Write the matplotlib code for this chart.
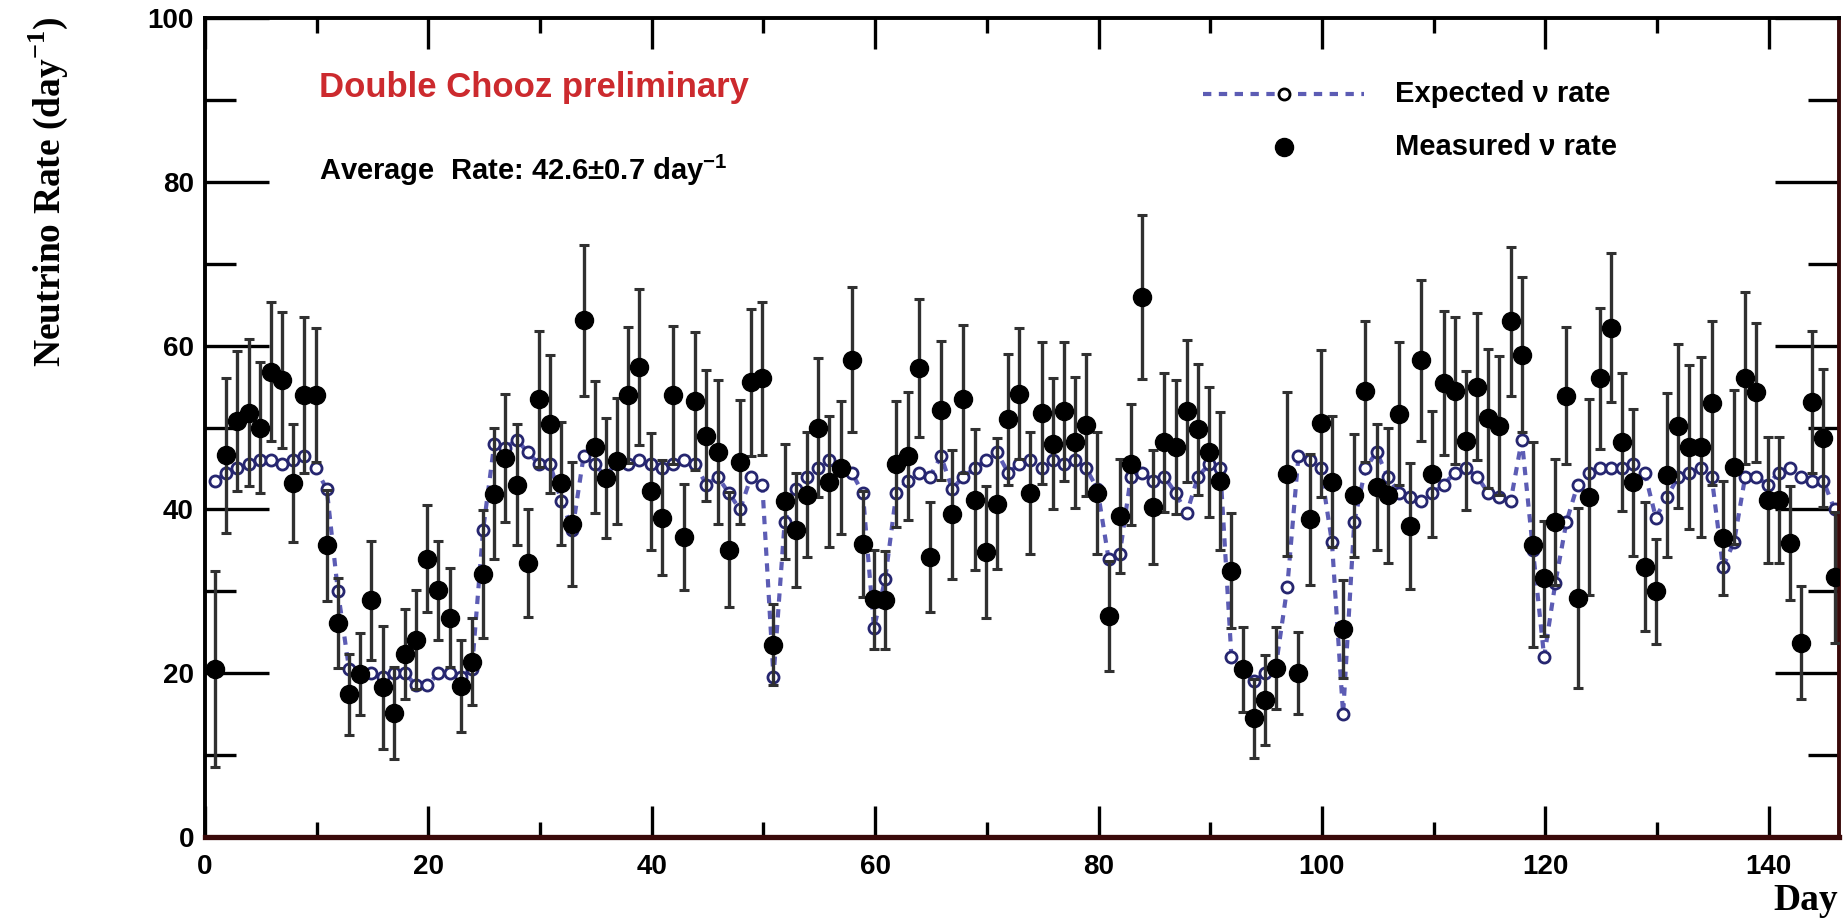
import numpy as np
import matplotlib
matplotlib.use("Agg")
import matplotlib.pyplot as plt
from matplotlib.lines import Line2D

# ---------------- data ----------------
days = np.arange(1, 147) - 0.1

measured = [20.5, 46.6, 50.8, 51.8, 50.0, 56.8, 55.8, 43.2, 54.0, 54.0,
            35.6, 26.1, 17.4, 19.9, 28.9, 18.3, 15.1, 22.3, 24.1, 34.0,
            30.1, 26.8, 18.4, 21.4, 32.1, 41.9, 46.3, 43.0, 33.5, 53.5,
            50.4, 43.2, 38.2, 63.1, 47.6, 43.8, 45.9, 54.0, 57.4, 42.2,
            39.0, 54.0, 36.6, 53.2, 49.0, 47.0, 35.1, 45.8, 55.5, 56.0,
            23.5, 41.0, 37.5, 41.8, 50.0, 43.4, 45.1, 58.3, 35.8, 29.0,
            28.9, 45.5, 46.5, 57.3, 34.2, 52.1, 39.4, 53.5, 41.2, 34.8,
            40.7, 51.0, 54.1, 42.0, 51.8, 48.0, 52.0, 48.2, 50.3, 42.0,
            27.0, 39.2, 45.5, 65.9, 40.3, 48.2, 47.6, 52.0, 49.8, 47.0,
            43.5, 32.5, 20.5, 14.5, 16.7, 20.6, 44.3, 20.0, 38.8, 50.5,
            43.4, 25.4, 41.7, 54.4, 42.7, 41.7, 51.7, 38.0, 58.2, 44.3,
            55.4, 54.5, 48.4, 55.0, 51.1, 50.2, 63.0, 58.9, 35.7, 31.6,
            38.5, 53.9, 29.2, 41.5, 56.0, 62.2, 48.2, 43.3, 33.0, 30.0,
            44.2, 50.2, 47.6, 47.6, 53.0, 36.5, 45.2, 56.1, 54.3, 41.1,
            41.1, 35.9, 23.7, 53.1, 48.7, 31.7]

errors = [12.0, 9.5, 8.5, 9.0, 8.0, 8.5, 8.3, 7.2, 9.5, 8.2,
          6.8, 5.5, 5.0, 5.0, 7.3, 7.5, 5.6, 5.5, 6.0, 6.5,
          6.0, 6.0, 5.6, 5.3, 7.8, 8.0, 7.8, 7.4, 6.6, 8.3,
          8.4, 7.5, 7.6, 9.2, 8.1, 7.3, 7.7, 8.3, 9.5, 7.1,
          7.0, 8.4, 6.5, 8.4, 8.0, 8.8, 7.0, 7.6, 9.0, 9.3,
          5.0, 7.0, 7.0, 7.6, 8.5, 8.0, 8.1, 8.9, 6.5, 6.0,
          6.0, 7.7, 7.8, 8.4, 6.7, 8.5, 7.9, 9.0, 8.6, 8.0,
          8.0, 8.0, 8.0, 7.5, 8.7, 8.0, 8.5, 8.0, 8.7, 7.5,
          6.7, 7.0, 7.4, 10.0, 7.0, 8.5, 8.2, 8.7, 8.0, 7.9,
          8.4, 7.0, 5.2, 4.8, 5.5, 5.0, 10.0, 5.0, 8.0, 9.0,
          8.0, 6.0, 7.5, 8.6, 7.7, 8.2, 8.7, 7.7, 9.8, 7.7,
          8.8, 9.0, 8.5, 9.0, 8.5, 8.5, 9.1, 9.5, 12.5, 7.0,
          7.7, 8.4, 11.0, 12.0, 8.6, 9.1, 8.4, 9.0, 7.9, 6.4,
          10.0, 10.0, 10.0, 11.0, 10.0, 7.0, 9.4, 10.5, 8.5, 7.7,
          7.7, 7.0, 6.9, 8.7, 8.4, 8.0]

expected = [43.5, 44.5, 45.0, 45.5, 46.0, 46.0, 45.5, 46.0, 46.5, 45.0,
            42.5, 30.0, 20.5, 20.0, 20.0, 19.5, 20.0, 20.0, 18.5, 18.5,
            20.0, 20.0, 19.5, 20.5, 37.5, 48.0, 47.5, 48.5, 47.0, 45.5,
            45.5, 41.0, 37.5, 46.5, 45.5, 44.0, 46.0, 45.5, 46.0, 45.5,
            45.0, 45.5, 46.0, 45.5, 43.0, 44.0, 42.0, 40.0, 44.0, 43.0,
            19.5, 38.5, 42.5, 44.0, 45.0, 46.0, 45.0, 44.5, 42.0, 25.5,
            31.5, 42.0, 43.5, 44.5, 44.0, 46.5, 42.5, 44.0, 45.0, 46.0,
            47.0, 44.5, 45.5, 46.0, 45.0, 46.0, 45.5, 46.0, 45.0, 42.5,
            34.0, 34.5, 44.0, 44.5, 43.5, 44.0, 42.0, 39.5, 44.0, 45.5,
            45.0, 22.0, 20.5, 19.0, 20.0, 21.0, 30.5, 46.5, 46.0, 45.0,
            36.0, 15.0, 38.5, 45.0, 47.0, 44.0, 42.0, 41.5, 41.0, 42.0,
            43.0, 44.5, 45.0, 44.0, 42.0, 41.5, 41.0, 48.5, 35.0, 22.0,
            31.0, 38.5, 43.0, 44.5, 45.0, 45.0, 45.0, 45.5, 44.5, 39.0,
            41.5, 44.0, 44.5, 45.0, 44.0, 33.0, 36.0, 44.0, 44.0, 43.0,
            44.5, 45.0, 44.0, 43.5, 43.5, 40.0]

x_ticks = [0, 20, 40, 60, 80, 100, 120, 140]
y_ticks = [0, 20, 40, 60, 80, 100]

# ---------------- figure ----------------
W, H = 1848, 919
fig = plt.figure(figsize=(W / 100, H / 100), dpi=100)
ax = fig.add_axes([205 / W, 1 - 837 / H, (1839 - 205) / W, (837 - 18) / H])

line_col = "#5c5cb4"
ring_col = "#262670"
ax.plot(days, expected, linestyle=(0, (2.0, 1.8)), color=line_col, lw=3.0,
        marker="o", markersize=8, markerfacecolor="white",
        markeredgecolor=ring_col, markeredgewidth=2.0, zorder=2)

ax.errorbar(days, measured, yerr=errors, fmt="o", color="black",
            markersize=13, ecolor="#303030", elinewidth=2.4, capsize=3.5,
            capthick=2.2, zorder=3)

ax.set_xlim(0, 146.3)
ax.set_ylim(0, 100)
ax.set_xticks(x_ticks)
ax.set_yticks(y_ticks)
ax.set_xticks(np.arange(10, 146, 20), minor=True)
ax.set_yticks(np.arange(10, 100, 20), minor=True)

ax.tick_params(axis="both", which="both", direction="in", top=True, right=True,
               colors="black", width=2.4)
ax.tick_params(axis="x", which="major", length=22, pad=12)
ax.tick_params(axis="x", which="minor", length=11)
ax.tick_params(axis="y", which="major", length=46, pad=8)
ax.tick_params(axis="y", which="minor", length=22)
for lab in ax.get_xticklabels() + ax.get_yticklabels():
    lab.set_fontfamily("Liberation Sans")
    lab.set_fontsize(20)
    lab.set_fontweight("bold")

for s in ax.spines.values():
    s.set_linewidth(2.8)
    s.set_color("black")
ax.spines["bottom"].set_color("#3a0a0a")
ax.spines["bottom"].set_linewidth(3.8)
ax.spines["right"].set_color("#3a0a0a")

# axis titles
fig.text(48 / W, 1 - 16 / H, "Neutrino Rate (day$^{\\mathregular{-1}}$)",
         rotation=90, ha="center", va="top", family="Liberation Serif",
         fontsize=27, fontweight="bold")
fig.text(1838 / W, 1 - 900 / H, "Day", ha="right", va="center",
         family="Liberation Serif", fontsize=27, fontweight="bold")

# annotations
fig.text(319 / W, 1 - 87 / H, "Double Chooz preliminary", ha="left",
         va="center", color="#cc2a2e", family="Liberation Sans", fontsize=25,
         fontweight="bold")
fig.text(319 / W, 1 - 170 / H,
         "Average  Rate: 42.6\u00b10.7 day$^{\\mathregular{-1}}$", ha="left",
         va="center", color="black", family="Liberation Sans", fontsize=21,
         fontweight="bold")

# legend (drawn by hand to match placement)
fig.add_artist(Line2D([1203 / W, 1364 / W], [1 - 94 / H, 1 - 94 / H],
                      transform=fig.transFigure, linestyle=(0, (2.0, 1.8)),
                      color=line_col, lw=3.0))
fig.add_artist(Line2D([1284 / W], [1 - 94 / H], transform=fig.transFigure,
                      marker="o", markersize=8, markerfacecolor="white",
                      markeredgecolor="black", markeredgewidth=2.0,
                      linestyle="none"))
fig.add_artist(Line2D([1284 / W], [1 - 147 / H], transform=fig.transFigure,
                      marker="o", markersize=13, color="black",
                      linestyle="none"))
fig.text(1395 / W, 1 - 94 / H, "Expected \u03bd rate", ha="left", va="center",
         family="Liberation Sans", fontsize=21, fontweight="bold")
fig.text(1395 / W, 1 - 147 / H, "Measured \u03bd rate", ha="left", va="center",
         family="Liberation Sans", fontsize=21, fontweight="bold")

fig.savefig("out.png", dpi=100)
